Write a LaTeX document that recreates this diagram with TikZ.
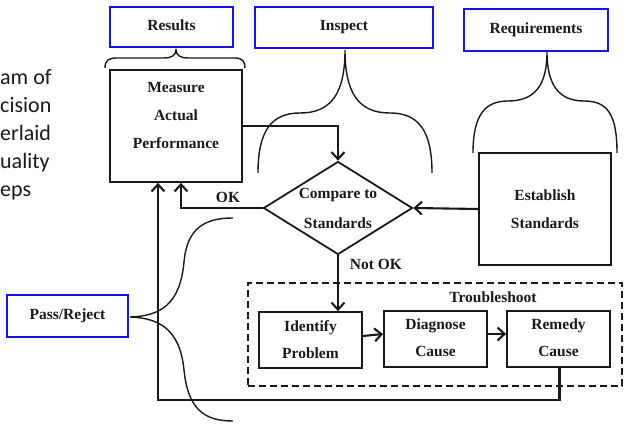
\documentclass[tikz,border=0pt]{standalone}
\usepackage{fontspec}
\setmainfont{Liberation Serif}
\newfontfamily\sidefont{Carlito}
\usetikzlibrary{shapes.geometric,arrows.meta}
\definecolor{pblue}{RGB}{20,20,230}
\definecolor{ink}{RGB}{25,25,25}
\begin{document}
\begin{tikzpicture}[x=1pt,y=-1pt,
  box/.style={draw=ink, line width=1.8pt, inner sep=0pt},
  bluebox/.style={draw=pblue, line width=2.4pt, inner sep=0pt, text=ink,
    font=\fontsize{15.5}{18}\selectfont\bfseries},
  lbl/.style={font=\fontsize{15.5}{28}\selectfont\bfseries, text=ink, align=center, inner sep=0pt},
  side/.style={font=\sidefont\fontsize{22}{26}\selectfont, text=ink, inner sep=0pt, anchor=base west},
  conn/.style={draw=ink, line width=2.1pt, -{Straight Barb[length=7pt,width=13pt]}},
  brace/.style={draw=ink, line width=1.4pt},
  dashbox/.style={draw=ink, line width=1.6pt, dash pattern=on 7pt off 4pt, inner sep=0pt}
]
\useasboundingbox (0,0) rectangle (625,425);

% side text fragments
\node[side] (s1) at (0,85) {am of};
\node[side] (s2) at (0,113) {cision};
\node[side] (s3) at (0,141) {erlaid};
\node[side] (s4) at (0,169) {uality};
\node[side] (s5) at (0,197) {eps};

% blue label boxes
\node[bluebox, minimum width=123pt, minimum height=40pt] (results) at (171.5,27) {\raisebox{3pt}{Results}};
\node[bluebox, minimum width=178pt, minimum height=41pt] (inspect) at (344,27.5) {\raisebox{3pt}{Inspect}};
\node[bluebox, minimum width=144pt, minimum height=42pt] (req) at (536,30) {Requirements};
\node[bluebox, minimum width=121pt, minimum height=42pt] (pass) at (67.5,316) {\raisebox{3pt}{Pass/Reject}};

% main boxes
\node[box, minimum width=132pt, minimum height=112pt] (measure) at (176,126) {};
\node[lbl] (tmeasure) at (176,116) {Measure\\Actual\\Performance};

\node[box, minimum width=132pt, minimum height=112pt] (establish) at (545,209) {};
\node[lbl] (testablish) at (545,209) {Establish\\Standards};

\node[box, shape=diamond, minimum width=149pt, minimum height=93pt] (cmp) at (338,208) {};
\node[lbl, font=\fontsize{15.5}{30}\selectfont\bfseries] (tcmp) at (338,208) {Compare to\\Standards};

% troubleshoot group
\node[dashbox, minimum width=374pt, minimum height=103pt] (trouble) at (435,334.5) {};
\node[lbl] (ttrouble) at (493,297) {Troubleshoot};

\node[box, minimum width=103pt, minimum height=56pt] (identify) at (310.5,340) {};
\node[lbl, font=\fontsize{15.5}{27}\selectfont\bfseries] (tidentify) at (310.5,339.5) {Identify\\Problem};
\node[box, minimum width=103pt, minimum height=56pt] (diagnose) at (435.5,339) {};
\node[lbl, font=\fontsize{15.5}{27}\selectfont\bfseries] (tdiagnose) at (435.5,338) {Diagnose\\Cause};
\node[box, minimum width=103pt, minimum height=56pt] (remedy) at (558.5,339) {};
\node[lbl, font=\fontsize{15.5}{27}\selectfont\bfseries] (tremedy) at (558.5,338) {Remedy\\Cause};

% braces
\draw[brace] (105,68) .. controls (105,60) and (109,58) .. (117,58) -- (164,58)
  .. controls (172,58) and (176,55) .. (176,50)
  .. controls (176,55) and (180,58) .. (188,58) -- (235,58)
  .. controls (243,58) and (245,62) .. (245,68);
\draw[brace] (258,173) .. controls (258,130) and (272,113) .. (300,113)
  .. controls (330,113) and (345,95) .. (345,50)
  .. controls (345,95) and (360,113) .. (390,113)
  .. controls (418,113) and (432,130) .. (432,173);
\draw[brace] (473,153) .. controls (473,115) and (485,101) .. (508,101)
  .. controls (535,101) and (547,85) .. (547,52)
  .. controls (547,85) and (559,101) .. (584,101)
  .. controls (608,101) and (617,115) .. (617,153);
\draw[brace] (233,218) .. controls (205,218) and (187,228) .. (184,262)
  .. controls (180,305) and (160,316) .. (130,317)
  .. controls (160,318) and (180,330) .. (184,370)
  .. controls (188,410) and (205,421) .. (233,421);

% connectors
\draw[conn] (measure.east) -| (cmp.north);
\draw[conn] (establish.west) -- (cmp.east);
\draw[conn] (cmp.west) -| ([xshift=5pt]measure.south);
\node[lbl] (ok) at (228,197) {OK};
\draw[conn] (cmp.south) -- (cmp.south |- identify.north);
\node[lbl] (notok) at (376,264) {Not OK};
\draw[conn] ([yshift=4pt]identify.east) -- ([yshift=5pt]diagnose.west);
\draw[conn] ([yshift=5pt]diagnose.east) -- ([yshift=5pt]remedy.west);
\coordinate (ret) at (158,400);
\draw[conn] ([xshift=1pt]remedy.south) |- (ret) -- (ret |- measure.south);
\end{tikzpicture}
\end{document}
